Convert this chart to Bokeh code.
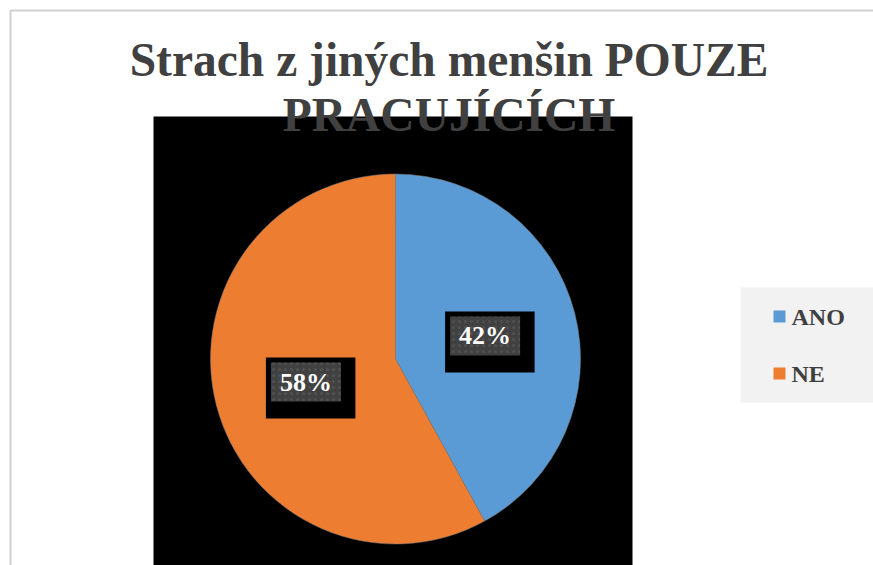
import numpy as np
from bokeh.plotting import figure
from bokeh.models import Range1d, ColumnDataSource
from bokeh.core.properties import value
from bokeh.embed import file_html
from bokeh.resources import INLINE

# ---- data ----
categories = ["ANO", "NE"]
shares = [42, 58]
colors = ["#5b9bd5", "#ed7d31"]
title_lines = ["Strach z jiných menšin POUZE", "PRACUJÍCÍCH"]

# ---- layout helpers (data units == screen pixels) ----
W, H = 873, 565
def px(x):
    return x
def py(y):
    return H - y

FONT = value("Liberation Serif")

p = figure(width=W, height=H, output_backend="svg", toolbar_location=None,
           x_range=Range1d(0, W), y_range=Range1d(0, H),
           min_border=0, outline_line_color=None, background_fill_color="white",
           border_fill_color="white")
p.xaxis.visible = False
p.yaxis.visible = False
p.grid.visible = False

# outer chart border
p.quad(left=[px(10)], right=[W + 50], top=[py(10)], bottom=[-50],
       fill_color=None, line_color="#d0d0d0", line_width=2)

# black plot area
p.quad(left=[px(153)], right=[px(632)], top=[py(116)], bottom=[-50],
       fill_color="black", line_color=None)

# pie
cx, cy, R = px(395), py(358.5), 185
frac = np.array(shares, dtype=float) / sum(shares)
cum = np.concatenate([[0], np.cumsum(frac)])
starts = np.pi / 2 - cum[1:] * 2 * np.pi
ends = np.pi / 2 - cum[:-1] * 2 * np.pi
src = ColumnDataSource(dict(start=starts, end=ends, color=colors, cat=categories))
p.wedge(x=cx, y=cy, radius=R, start_angle="start", end_angle="end",
        fill_color="color", line_color="#7f7f7f", line_width=0.5, source=src)

# data labels
mids = (starts + ends) / 2
lx = cx + 0.5 * R * np.cos(mids)
ly = cy + 0.5 * R * np.sin(mids)
labels = [f"{s}%" for s in shares]
p.quad(left=lx - 40, right=lx + 49.5, top=ly + 24.5, bottom=ly - 36.5,
       fill_color="black", line_color=None)
p.quad(left=lx - 35, right=lx + 35, top=ly + 19.5, bottom=ly - 19.5,
       fill_color="#414141", line_color=None,
       hatch_pattern="dot", hatch_color="#515151", hatch_scale=6, hatch_weight=2)
p.text(x=lx, y=ly, text=labels, text_color="white", text_font=FONT,
       text_font_style="bold", text_font_size="26px", text_align="center",
       text_baseline="alphabetic")

# legend
p.quad(left=[px(740)], right=[W + 50], top=[py(287)], bottom=[py(402)],
       fill_color="#f2f2f2", line_color=None)
leg_y = np.array([py(316), py(373)])
p.rect(x=[px(779)] * len(categories), y=leg_y, width=12, height=12,
       fill_color=colors, line_color=None)
p.text(x=[px(791)] * len(categories), y=leg_y, text=categories,
       text_color="#404040", text_font=FONT, text_font_style="bold",
       text_font_size="24px", text_align="left", text_baseline="alphabetic")

# title
p.text(x=[px(448.5)] * 2, y=[py(59), py(114)], text=title_lines,
       text_color="#404040", text_font=FONT, text_font_style="bold",
       text_font_size="47.5px", text_align="center", text_baseline="alphabetic")

open("out.html", "w").write(file_html(p, INLINE))
